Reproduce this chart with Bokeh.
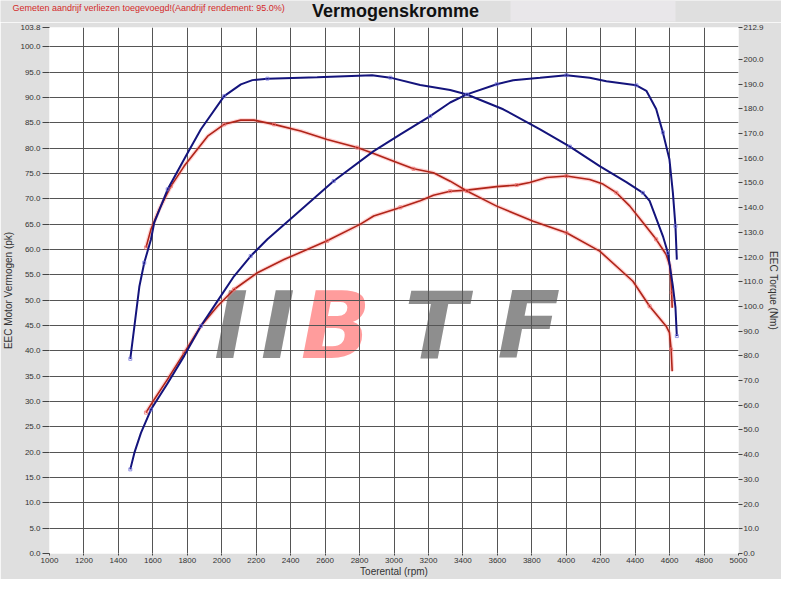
from bokeh.plotting import figure
from bokeh.layouts import column
from bokeh.models import Range1d, LinearAxis, FixedTicker, NumeralTickFormatter, Label, BoxAnnotation
from bokeh.embed import file_html
from bokeh.resources import INLINE

# ---------------- data ----------------
# Blue run: torque (Nm, right axis) and power (pk, left axis)
blue_torque_rpm = [1469, 1493, 1522, 1550, 1589, 1608, 1686, 1792, 1879, 2014, 2111, 2178, 2265, 2554,
                   2873, 2979, 3152, 3326, 3423, 3634, 3848, 4021, 4194, 4349, 4445, 4484, 4561, 4590,
                   4619, 4634, 4642]
blue_torque_nm = [78.8, 92.0, 108.2, 117.7, 127.1, 133.9, 147.4, 160.9, 171.7, 185.1, 189.9, 191.6, 192.2,
                  192.8, 193.6, 192.6, 189.6, 187.6, 185.8, 179.8, 171.7, 164.7, 156.8, 150.3, 146.0, 142.7,
                  128.5, 121.7, 108.2, 99.6, 88.0]

blue_power_rpm = [1469, 1493, 1531, 1589, 1686, 1782, 1879, 1975, 2071, 2168, 2265, 2419, 2650, 2882, 3037,
                  3210, 3326, 3423, 3596, 3692, 3848, 4001, 4136, 4233, 4407, 4465, 4522, 4561, 4599, 4619,
                  4634, 4642]
blue_power_pk = [16.6, 19.9, 23.8, 28.4, 33.6, 39.0, 44.9, 49.8, 54.7, 58.7, 62.0, 66.6, 73.5, 79.4, 82.7,
                 86.3, 89.0, 90.6, 92.6, 93.4, 93.9, 94.4, 93.9, 93.2, 92.4, 91.3, 87.7, 83.1, 77.8, 71.2,
                 64.6, 58.0]

# Red run: torque (Nm, right axis) and power (pk, left axis)
red_torque_rpm = [1560, 1589, 1637, 1705, 1782, 1918, 2014, 2110, 2187, 2303, 2458, 2612, 2786, 2882, 2998,
                  3113, 3229, 3326, 3423, 3596, 3808, 4001, 4194, 4387, 4484, 4580, 4599, 4609, 4615]
red_torque_nm = [123.8, 131.2, 139.3, 148.7, 156.8, 168.9, 173.7, 175.4, 175.4, 173.7, 171.0, 167.6, 164.3,
                 161.9, 158.8, 155.7, 154.1, 150.7, 146.7, 140.6, 134.5, 129.8, 122.4, 110.2, 100.1, 92.0,
                 89.4, 82.6, 73.8]

red_power_rpm = [1560, 1608, 1686, 1782, 1879, 1975, 2071, 2207, 2361, 2612, 2805, 2882, 3037, 3152, 3229,
                 3326, 3423, 3596, 3712, 3788, 3886, 4001, 4136, 4213, 4291, 4368, 4445, 4522, 4580, 4603,
                 4612, 4615]
red_power_pk = [27.8, 30.4, 34.4, 39.6, 44.9, 48.8, 52.1, 55.4, 58.0, 61.7, 65.0, 66.6, 68.3, 69.6, 70.7,
                71.5, 71.7, 72.4, 72.7, 73.2, 74.2, 74.5, 73.8, 72.9, 71.2, 68.6, 65.3, 62.0, 59.0, 56.7,
                51.5, 48.5]

# ticks
x_ticks = [1000, 1200, 1400, 1600, 1800, 2000, 2200, 2400, 2600, 2800, 3000, 3200, 3400, 3600, 3800,
           4000, 4200, 4400, 4600, 4800, 5000]
left_grid = [0, 5, 10, 15, 20, 25, 30, 35, 40, 45, 50, 55, 60, 65, 70, 75, 80, 85, 90, 95, 100]
left_ticks = left_grid + [103.8]
right_ticks = [0, 10, 20, 30, 40, 50, 60, 70, 80, 90, 100, 110, 120, 130, 140, 150, 160, 170, 180, 190,
               200, 212.9]

TITLE = "Vermogenskromme"
SUBTITLE = "Gemeten aandrijf verliezen toegevoegd!(Aandrijf rendement: 95.0%)"

FONT = "Liberation Sans"
BG = "#dfdfdf"
BLUE = "#14147c"
RED = "#b02418"

W = 781
HEAD_H = 22

# ---------------- header strip (title + note) ----------------
head = figure(width=W, height=HEAD_H, x_range=Range1d(0, W), y_range=Range1d(0, HEAD_H),
              x_axis_type=None, y_axis_type=None, min_border=0, toolbar_location=None,
              output_backend="svg", background_fill_color=BG, border_fill_color=BG,
              outline_line_color=None)
head.frame_align = False
head.add_layout(BoxAnnotation(left=510, right=675, bottom=1, top=HEAD_H, fill_color="#e9e7ea",
                              fill_alpha=1, line_color=None))
head.add_layout(Label(x=395, y=12, text=TITLE, text_font=FONT, text_font_size="18px",
                      text_font_style="bold", text_color="#111111", text_align="center",
                      text_baseline="middle"))
head.add_layout(Label(x=12, y=14.5, text=SUBTITLE, text_font=FONT, text_font_size="9px",
                      text_color="#d42a2a", text_align="left", text_baseline="middle"))

# ---------------- main chart ----------------
p = figure(width=W, height=579 - HEAD_H, x_range=Range1d(1000, 5000), y_range=Range1d(0, 103.8),
           output_backend="svg", toolbar_location=None,
           min_border_left=48, min_border_right=42, min_border_top=5, min_border_bottom=25,
           background_fill_color="white", border_fill_color=BG, outline_line_color=None)
p.frame_align = False
p.extra_y_ranges = {"tq": Range1d(0, 212.9)}

p.xaxis.ticker = FixedTicker(ticks=x_ticks)
p.xaxis.formatter = NumeralTickFormatter(format="0")
p.xaxis.axis_label = "Toerental (rpm)"
p.yaxis.ticker = FixedTicker(ticks=left_ticks)
p.yaxis.formatter = NumeralTickFormatter(format="0.0")
p.yaxis.axis_label = "EEC Motor Vermogen (pk)"

right = LinearAxis(y_range_name="tq", ticker=FixedTicker(ticks=right_ticks),
                   formatter=NumeralTickFormatter(format="0.0"), axis_label="EEC Torque (Nm)")
p.add_layout(right, "right")

for ax in [p.xaxis[0], p.yaxis[0], right]:
    ax.axis_line_color = None
    ax.major_tick_line_color = "#444444"
    ax.major_tick_in = 0
    ax.minor_tick_line_color = None
    ax.major_label_text_font = FONT
    ax.major_label_text_font_size = "8px"
    ax.major_label_text_color = "#333333"
    ax.axis_label_text_font = FONT
    ax.axis_label_text_font_size = "10px"
    ax.axis_label_text_font_style = "normal"
    ax.axis_label_text_color = "#333333"

p.yaxis.major_tick_out = 7
p.yaxis.major_label_standoff = 2
p.yaxis.axis_label_standoff = 3
right.major_tick_out = 4
right.major_label_standoff = 1
right.axis_label_standoff = 1
p.xaxis.major_tick_out = 2
p.xaxis.major_label_standoff = 2
p.xaxis.axis_label_standoff = 0

p.xgrid.ticker = FixedTicker(ticks=x_ticks)
p.ygrid.ticker = FixedTicker(ticks=left_grid)
p.xgrid.grid_line_color = "#555555"
p.ygrid.grid_line_color = "#555555"

# watermark logo (drawn under the grid)
wm_gray = "#8e8e8e"
wm_pink = "#ff9c9c"
for txt, xr, col in [("I", 1955, wm_gray), ("I", 2227, wm_gray), ("B", 2458, wm_pink),
                     ("T", 3060, wm_gray), ("F", 3600, wm_gray)]:
    p.add_layout(Label(x=xr, y=44.8, text=txt, text_font="DejaVu Sans", text_font_size="92px",
                       text_font_style="bold italic", text_color=col, text_baseline="alphabetic",
                       level="image"))

# curves
for xs, ys, rng in [(red_power_rpm, red_power_pk, "default"), (red_torque_rpm, red_torque_nm, "tq")]:
    p.line(xs, ys, line_color="#ff8080", line_width=4, line_alpha=0.35, y_range_name=rng)
    p.line(xs, ys, line_color=RED, line_width=1.6, y_range_name=rng)
    p.scatter(xs[::3], ys[::3], marker="square", size=3, fill_color=None, line_color="#ee7070",
              line_alpha=0.7, line_width=1, y_range_name=rng)

for xs, ys, rng in [(blue_power_rpm, blue_power_pk, "default"), (blue_torque_rpm, blue_torque_nm, "tq")]:
    p.line(xs, ys, line_color=BLUE, line_width=2, y_range_name=rng)
    p.scatter(xs[::3], ys[::3], marker="square", size=3, fill_color=None, line_color="#7070dd",
              line_alpha=0.7, line_width=1, y_range_name=rng)

layout = column(head, p, spacing=0)
open("out.html", "w").write(file_html(layout, INLINE))
